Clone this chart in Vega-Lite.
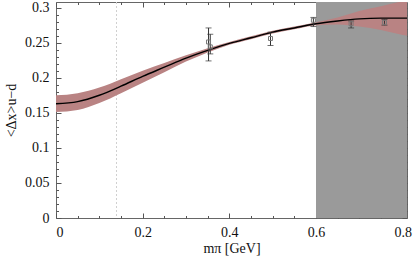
{
  "$schema": "https://vega.github.io/schema/vega-lite/v6.json",
  "width": 351,
  "height": 216,
  "autosize": {"type": "none"},
  "padding": {"left": 56, "top": 2, "right": 9, "bottom": 39},
  "background": "white",
  "config": {
    "view": {"stroke": "#666666", "strokeWidth": 1},
    "axis": {
      "labelColor": "#111111",
      "titleColor": "#111111",
      "tickColor": "#555555",
      "domain": false,
      "grid": false
    }
  },
  "datasets": {
    "curve": [
      {"m": 0.0, "y": 0.163, "lo": 0.151, "hi": 0.175},
      {"m": 0.05, "y": 0.166, "lo": 0.154, "hi": 0.178},
      {"m": 0.1, "y": 0.175, "lo": 0.164, "hi": 0.186},
      {"m": 0.15, "y": 0.188, "lo": 0.178, "hi": 0.198},
      {"m": 0.2, "y": 0.202, "lo": 0.193, "hi": 0.210},
      {"m": 0.25, "y": 0.215, "lo": 0.208, "hi": 0.221},
      {"m": 0.3, "y": 0.228, "lo": 0.223, "hi": 0.232},
      {"m": 0.35, "y": 0.239, "lo": 0.236, "hi": 0.242},
      {"m": 0.4, "y": 0.249, "lo": 0.247, "hi": 0.251},
      {"m": 0.45, "y": 0.257, "lo": 0.255, "hi": 0.259},
      {"m": 0.5, "y": 0.265, "lo": 0.263, "hi": 0.267},
      {"m": 0.55, "y": 0.271, "lo": 0.269, "hi": 0.273},
      {"m": 0.6, "y": 0.277, "lo": 0.275, "hi": 0.279},
      {"m": 0.65, "y": 0.281, "lo": 0.276, "hi": 0.286},
      {"m": 0.7, "y": 0.284, "lo": 0.273, "hi": 0.295},
      {"m": 0.75, "y": 0.285, "lo": 0.268, "hi": 0.302},
      {"m": 0.8, "y": 0.285, "lo": 0.261, "hi": 0.309},
      {"m": 0.81, "y": 0.285, "lo": 0.260, "hi": 0.310}
    ],
    "pts": [
      {"m": 0.352, "y": 0.251, "lo": 0.224, "hi": 0.271},
      {"m": 0.356, "y": 0.244, "lo": 0.234, "hi": 0.262},
      {"m": 0.495, "y": 0.256, "lo": 0.246, "hi": 0.265},
      {"m": 0.594, "y": 0.282, "lo": 0.273, "hi": 0.286},
      {"m": 0.681, "y": 0.277, "lo": 0.271, "hi": 0.281},
      {"m": 0.758, "y": 0.279, "lo": 0.275, "hi": 0.283}
    ],
    "region": [{"x1": 0.6, "x2": 0.81, "y1": 0, "y2": 0.308}],
    "phys": [{"m": 0.1396}]
  },
  "layer": [
    {
      "data": {"name": "region"},
      "mark": {"type": "rect", "color": "#9a9a9a"},
      "encoding": {
        "x": {"field": "x1", "type": "quantitative", "scale": {"domain": [0, 0.81], "nice": false},
              "axis": {"orient": "bottom", "values": [0, 0.2, 0.4, 0.6, 0.8], "format": "~g", "tickSize": -5, "labelPadding": 12, "title": "mπ [GeV]", "titlePadding": 2,
                       "labelFont": "Times New Roman", "titleFont": "Times New Roman", "labelFontSize": 14, "titleFontSize": 14, "titleFontWeight": "normal"}},
        "x2": {"field": "x2"},
        "y": {"field": "y1", "type": "quantitative", "scale": {"domain": [0, 0.308], "nice": false},
              "axis": {"orient": "left", "values": [0, 0.05, 0.1, 0.15, 0.2, 0.25, 0.3], "format": "~g", "tickSize": -5, "labelPadding": 12, "title": "<Δx>u−d", "titlePadding": 6,
                       "labelFont": "Times New Roman", "titleFont": "Times New Roman", "labelFontSize": 14, "titleFontSize": 14, "titleFontWeight": "normal"}},
        "y2": {"field": "y2"}
      }
    },
    {
      "data": {"name": "phys"},
      "mark": {"type": "rule", "color": "#d0d0d0", "strokeDash": [2, 2], "strokeWidth": 1},
      "encoding": {
        "x": {"field": "m", "type": "quantitative", "scale": {"domain": [0, 0.81], "nice": false},
              "axis": {"orient": "bottom", "values": [0.05, 0.1, 0.15, 0.25, 0.3, 0.35, 0.45, 0.5, 0.55, 0.65, 0.7, 0.75], "tickSize": -2.5, "labels": false, "title": null}}
      }
    },
    {
      "data": {"name": "curve"},
      "mark": {"type": "area", "color": "#b98383", "opacity": 1, "interpolate": "monotone", "clip": true},
      "encoding": {
        "x": {"field": "m", "type": "quantitative", "scale": {"domain": [0, 0.81], "nice": false},
              "axis": {"orient": "top", "values": [0, 0.2, 0.4, 0.6, 0.8], "tickSize": -5, "labels": false, "title": null}},
        "y": {"field": "lo", "type": "quantitative", "scale": {"domain": [0, 0.308], "nice": false},
              "axis": {"orient": "left", "values": [0.01, 0.02, 0.03, 0.04, 0.06, 0.07, 0.08, 0.09, 0.11, 0.12, 0.13, 0.14, 0.16, 0.17, 0.18, 0.19, 0.21, 0.22, 0.23, 0.24, 0.26, 0.27, 0.28, 0.29], "tickSize": -2.5, "labels": false, "title": null}},
        "y2": {"field": "hi"}
      }
    },
    {
      "data": {"name": "curve"},
      "mark": {"type": "line", "color": "#000000", "strokeWidth": 1.4, "interpolate": "monotone"},
      "encoding": {
        "x": {"field": "m", "type": "quantitative", "scale": {"domain": [0, 0.81], "nice": false},
              "axis": {"orient": "top", "values": [0.05, 0.1, 0.15, 0.25, 0.3, 0.35, 0.45, 0.5, 0.55, 0.65, 0.7, 0.75], "tickSize": -2.5, "labels": false, "title": null}},
        "y": {"field": "y", "type": "quantitative", "scale": {"domain": [0, 0.308], "nice": false},
              "axis": {"orient": "right", "values": [0, 0.05, 0.1, 0.15, 0.2, 0.25, 0.3], "tickSize": -5, "labels": false, "title": null}}
      }
    },
    {
      "data": {"name": "pts"},
      "mark": {"type": "rule", "color": "#333333", "strokeWidth": 1},
      "encoding": {
        "x": {"field": "m", "type": "quantitative", "scale": {"domain": [0, 0.81], "nice": false}, "axis": null},
        "y": {"field": "lo", "type": "quantitative", "scale": {"domain": [0, 0.308], "nice": false},
              "axis": {"orient": "right", "values": [0.01, 0.02, 0.03, 0.04, 0.06, 0.07, 0.08, 0.09, 0.11, 0.12, 0.13, 0.14, 0.16, 0.17, 0.18, 0.19, 0.21, 0.22, 0.23, 0.24, 0.26, 0.27, 0.28, 0.29], "tickSize": -2.5, "labels": false, "title": null}},
        "y2": {"field": "hi"}
      }
    },
    {
      "data": {"name": "pts"},
      "mark": {"type": "tick", "orient": "horizontal", "color": "#333333", "size": 6, "thickness": 1},
      "encoding": {
        "x": {"field": "m", "type": "quantitative", "scale": {"domain": [0, 0.81], "nice": false}, "axis": null},
        "y": {"field": "lo", "type": "quantitative", "scale": {"domain": [0, 0.308], "nice": false}, "axis": null}
      }
    },
    {
      "data": {"name": "pts"},
      "mark": {"type": "tick", "orient": "horizontal", "color": "#333333", "size": 6, "thickness": 1},
      "encoding": {
        "x": {"field": "m", "type": "quantitative", "scale": {"domain": [0, 0.81], "nice": false}, "axis": null},
        "y": {"field": "hi", "type": "quantitative", "scale": {"domain": [0, 0.308], "nice": false}, "axis": null}
      }
    },
    {
      "data": {"name": "pts"},
      "mark": {"type": "point", "shape": "square", "size": 16, "filled": false, "color": "#777777", "strokeWidth": 1, "opacity": 1},
      "encoding": {
        "x": {"field": "m", "type": "quantitative", "scale": {"domain": [0, 0.81], "nice": false}, "axis": null},
        "y": {"field": "y", "type": "quantitative", "scale": {"domain": [0, 0.308], "nice": false}, "axis": null}
      }
    }
  ],
  "resolve": {"axis": {"x": "independent", "y": "independent"}}
}
